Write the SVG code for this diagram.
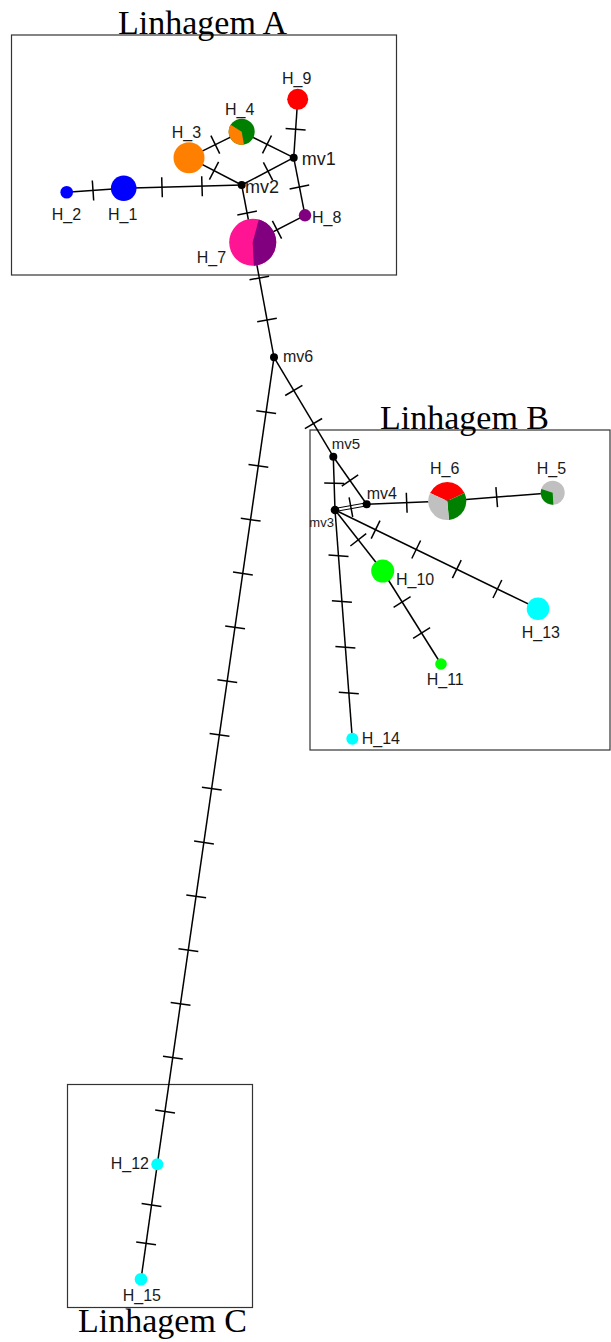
<svg xmlns="http://www.w3.org/2000/svg" width="611" height="1342" viewBox="0 0 611 1342">
<style>
.box{fill:none;stroke:#333;stroke-width:1.2}
.title{font-family:"Liberation Serif","Times New Roman",serif;font-size:34px;fill:#000}
.e{stroke:#000;stroke-width:1.5;fill:none}
.t{stroke:#000;stroke-width:1.5}
.d{stroke:#000;stroke-width:1}
.lb{font-family:"Liberation Sans",Arial,sans-serif;font-size:16px;fill:#1a1a1a}
.mv{fill:#000}
</style>
<rect width="611" height="1342" fill="#fff"/>
<g id="boxes">
<rect class="box" x="11.5" y="35" width="385" height="240"/>
<rect class="box" x="310" y="430" width="300" height="320"/>
<rect class="box" x="67.5" y="1084.5" width="185" height="223"/>
<text class="title" x="118" y="33.5">Linhagem A</text>
<text class="title" x="380" y="429">Linhagem B</text>
<text class="title" x="78" y="1331.5">Linhagem C</text>
</g>
<g id="connectors">
<line class="e" x1="66.7" y1="192.3" x2="123.7" y2="188.3"/>
<line class="t" x1="92.3" y1="180.5" x2="93.7" y2="200.5"/>
<line class="e" x1="123.7" y1="188.3" x2="241.7" y2="185"/>
<line class="t" x1="161.7" y1="177.2" x2="162.3" y2="197.2"/>
<line class="t" x1="201.7" y1="176.2" x2="202.3" y2="196.2"/>
<line class="e" x1="189" y1="157.7" x2="241.7" y2="131.7"/>
<line class="t" x1="219.7" y1="153.7" x2="210.9" y2="135.7"/>
<line class="e" x1="189" y1="157.7" x2="241.7" y2="185"/>
<line class="t" x1="209.4" y1="179.6" x2="218.6" y2="161.8"/>
<line class="e" x1="241.7" y1="131.7" x2="293.7" y2="157.7"/>
<line class="t" x1="262.5" y1="153.3" x2="271.5" y2="135.5"/>
<line class="e" x1="241.7" y1="185" x2="293.7" y2="157.7"/>
<line class="t" x1="272.6" y1="180.1" x2="263.4" y2="162.3"/>
<line class="e" x1="297.7" y1="99.3" x2="293.7" y2="157.7"/>
<line class="t" x1="285.6" y1="128.6" x2="305.6" y2="130"/>
<line class="e" x1="293.7" y1="157.7" x2="305" y2="215.3"/>
<line class="t" x1="289.6" y1="188.9" x2="309.2" y2="185.1"/>
<line class="e" x1="241.7" y1="185" x2="252.7" y2="242.3"/>
<line class="t" x1="237.3" y1="214.9" x2="256.9" y2="211.1"/>
<line class="e" x1="305" y1="215.3" x2="252.7" y2="242.3"/>
<line class="t" x1="272.4" y1="220.9" x2="281.6" y2="238.6"/>
<line class="e" x1="252.7" y1="242.3" x2="274" y2="357.3"/>
<line class="t" x1="249.5" y1="279.8" x2="269.1" y2="276.2"/>
<line class="t" x1="257.2" y1="321.8" x2="276.8" y2="318.2"/>
<line class="e" x1="274" y1="357.3" x2="333.3" y2="456.7"/>
<line class="t" x1="285.2" y1="395.5" x2="302.4" y2="385.3"/>
<line class="t" x1="304.9" y1="428.7" x2="322.1" y2="418.5"/>
<line class="e" x1="333.3" y1="456.7" x2="366.7" y2="504.3"/>
<line class="t" x1="341.8" y1="486.2" x2="358.2" y2="474.8"/>
<line class="e" x1="333.3" y1="456.7" x2="335" y2="510"/>
<line class="t" x1="324.2" y1="483" x2="344.2" y2="483.6"/>
<line class="d" x1="335.3" y1="511.5" x2="367" y2="505.8"/>
<line class="d" x1="334.7" y1="508.5" x2="366.4" y2="502.8"/>
<line class="t" x1="352.7" y1="517" x2="349.1" y2="497.4"/>
<line class="e" x1="366.7" y1="504.3" x2="447.3" y2="501"/>
<line class="t" x1="406.3" y1="492.7" x2="407.1" y2="512.7"/>
<line class="e" x1="447.3" y1="501" x2="552.7" y2="492.7"/>
<line class="t" x1="495.9" y1="487.1" x2="497.5" y2="507.1"/>
<line class="e" x1="335" y1="510" x2="382.7" y2="571"/>
<line class="t" x1="350.4" y1="546" x2="366.2" y2="533.6"/>
<line class="e" x1="382.7" y1="571" x2="441" y2="664"/>
<line class="t" x1="393.6" y1="607.3" x2="410.6" y2="596.7"/>
<line class="t" x1="413.1" y1="638.3" x2="430.1" y2="627.7"/>
<line class="e" x1="335" y1="510" x2="538" y2="608.7"/>
<line class="t" x1="371.2" y1="538.7" x2="380" y2="520.7"/>
<line class="t" x1="411.8" y1="558.5" x2="420.6" y2="540.5"/>
<line class="t" x1="452.4" y1="578.2" x2="461.2" y2="560.2"/>
<line class="t" x1="493" y1="598" x2="501.8" y2="580"/>
<line class="e" x1="335" y1="510" x2="352.3" y2="738.7"/>
<line class="t" x1="328.5" y1="555" x2="348.5" y2="556.5"/>
<line class="t" x1="331.9" y1="600.7" x2="351.9" y2="602.2"/>
<line class="t" x1="335.4" y1="646.4" x2="355.4" y2="647.9"/>
<line class="t" x1="338.8" y1="692.2" x2="358.8" y2="693.7"/>
<line class="e" x1="274" y1="357.3" x2="157.3" y2="1164.3"/>
<line class="t" x1="256.3" y1="410.7" x2="276.1" y2="413.5"/>
<line class="t" x1="248.5" y1="464.5" x2="268.3" y2="467.3"/>
<line class="t" x1="240.8" y1="518.3" x2="260.6" y2="521.1"/>
<line class="t" x1="233" y1="572.1" x2="252.8" y2="574.9"/>
<line class="t" x1="225.2" y1="625.9" x2="245" y2="628.7"/>
<line class="t" x1="217.4" y1="679.7" x2="237.2" y2="682.5"/>
<line class="t" x1="209.6" y1="733.5" x2="229.4" y2="736.3"/>
<line class="t" x1="201.9" y1="787.3" x2="221.7" y2="790.1"/>
<line class="t" x1="194.1" y1="841.1" x2="213.9" y2="843.9"/>
<line class="t" x1="186.3" y1="894.9" x2="206.1" y2="897.7"/>
<line class="t" x1="178.5" y1="948.7" x2="198.3" y2="951.5"/>
<line class="t" x1="170.7" y1="1002.5" x2="190.5" y2="1005.3"/>
<line class="t" x1="163" y1="1056.3" x2="182.8" y2="1059.1"/>
<line class="t" x1="155.2" y1="1110.1" x2="175" y2="1112.9"/>
<line class="e" x1="157.3" y1="1164.3" x2="141" y2="1279.3"/>
<line class="t" x1="141.6" y1="1203.6" x2="161.4" y2="1206.4"/>
<line class="t" x1="136.2" y1="1241.9" x2="156" y2="1244.7"/>
</g>
<g id="H_2"><circle cx="66.7" cy="192.3" r="6.3" fill="#0000FF"/><text class="lb" x="51.7" y="220">H_2</text></g>
<g id="H_1"><circle cx="123.7" cy="188.3" r="12.8" fill="#0000FF"/><text class="lb" x="108" y="220">H_1</text></g>
<g id="H_3"><circle cx="189" cy="157.7" r="15.5" fill="#FF8000"/><text class="lb" x="171.7" y="137.5">H_3</text></g>
<g id="H_4"><circle cx="241.7" cy="131.7" r="13" fill="#008000"/><path d="M241.7 131.7 L243.96 144.5 A13 13 0 0 1 230.68 124.81 Z" fill="#FF8000"/><text class="lb" x="225" y="115">H_4</text></g>
<g id="H_9"><circle cx="297.7" cy="99.3" r="10.5" fill="#FF0000"/><text class="lb" x="282" y="84">H_9</text></g>
<g id="mv1"><circle class="mv" cx="293.7" cy="157.7" r="4"/><text class="lb" x="301.7" y="165" style="font-size:18px">mv1</text></g>
<g id="mv2"><circle class="mv" cx="241.7" cy="185" r="4"/><text class="lb" x="245" y="193.3" style="font-size:18px">mv2</text></g>
<g id="H_8"><circle cx="305" cy="215.3" r="6.2" fill="#800080"/><text class="lb" x="312" y="223.3">H_8</text></g>
<g id="H_7"><circle cx="252.7" cy="242.3" r="23.5" fill="#FF1493"/><path d="M252.7 242.3 L258.78 219.6 A23.5 23.5 0 0 1 253.93 265.77 Z" fill="#800080"/><text class="lb" x="196.7" y="263.3">H_7</text></g>
<g id="mv6"><circle class="mv" cx="274" cy="357.3" r="4"/><text class="lb" x="283" y="361.7">mv6</text></g>
<g id="mv5"><circle class="mv" cx="333.3" cy="456.7" r="4"/><text class="lb" x="331.7" y="449.3" style="font-size:15px">mv5</text></g>
<g id="mv4"><circle class="mv" cx="366.7" cy="504.3" r="4"/><text class="lb" x="366.7" y="499">mv4</text></g>
<g id="mv3"><circle class="mv" cx="335" cy="510" r="4.3"/><text class="lb" x="309.3" y="526.7" style="font-size:13px">mv3</text></g>
<g id="H_6"><path d="M447.3 501 L430.08 492.97 A19 19 0 0 1 464.52 492.97 Z" fill="#FF0000"/><path d="M447.3 501 L464.52 492.97 A19 19 0 0 1 448.96 519.93 Z" fill="#008000"/><path d="M447.3 501 L448.96 519.93 A19 19 0 0 1 430.08 492.97 Z" fill="#C0C0C0"/><text class="lb" x="430" y="474">H_6</text></g>
<g id="H_5"><circle cx="552.7" cy="492.7" r="12" fill="#C0C0C0"/><path d="M552.7 492.7 L553.33 504.68 A12 12 0 0 1 541.29 488.99 Z" fill="#008000"/><text class="lb" x="536.7" y="474">H_5</text></g>
<g id="H_10"><circle cx="382.7" cy="571" r="11.5" fill="#00FF00"/><text class="lb" x="396" y="585">H_10</text></g>
<g id="H_13"><circle cx="538" cy="608.7" r="11.3" fill="#00FFFF"/><text class="lb" x="521.7" y="637.7">H_13</text></g>
<g id="H_11"><circle cx="441" cy="664" r="5.8" fill="#00FF00"/><text class="lb" x="426.7" y="685">H_11</text></g>
<g id="H_14"><circle cx="352.3" cy="738.7" r="6" fill="#00FFFF"/><text class="lb" x="361.7" y="744">H_14</text></g>
<g id="H_12"><circle cx="157.3" cy="1164.3" r="6" fill="#00FFFF"/><text class="lb" x="110.7" y="1169.3">H_12</text></g>
<g id="H_15"><circle cx="141" cy="1279.3" r="6.3" fill="#00FFFF"/><text class="lb" x="122.7" y="1300.7">H_15</text></g>
</svg>
